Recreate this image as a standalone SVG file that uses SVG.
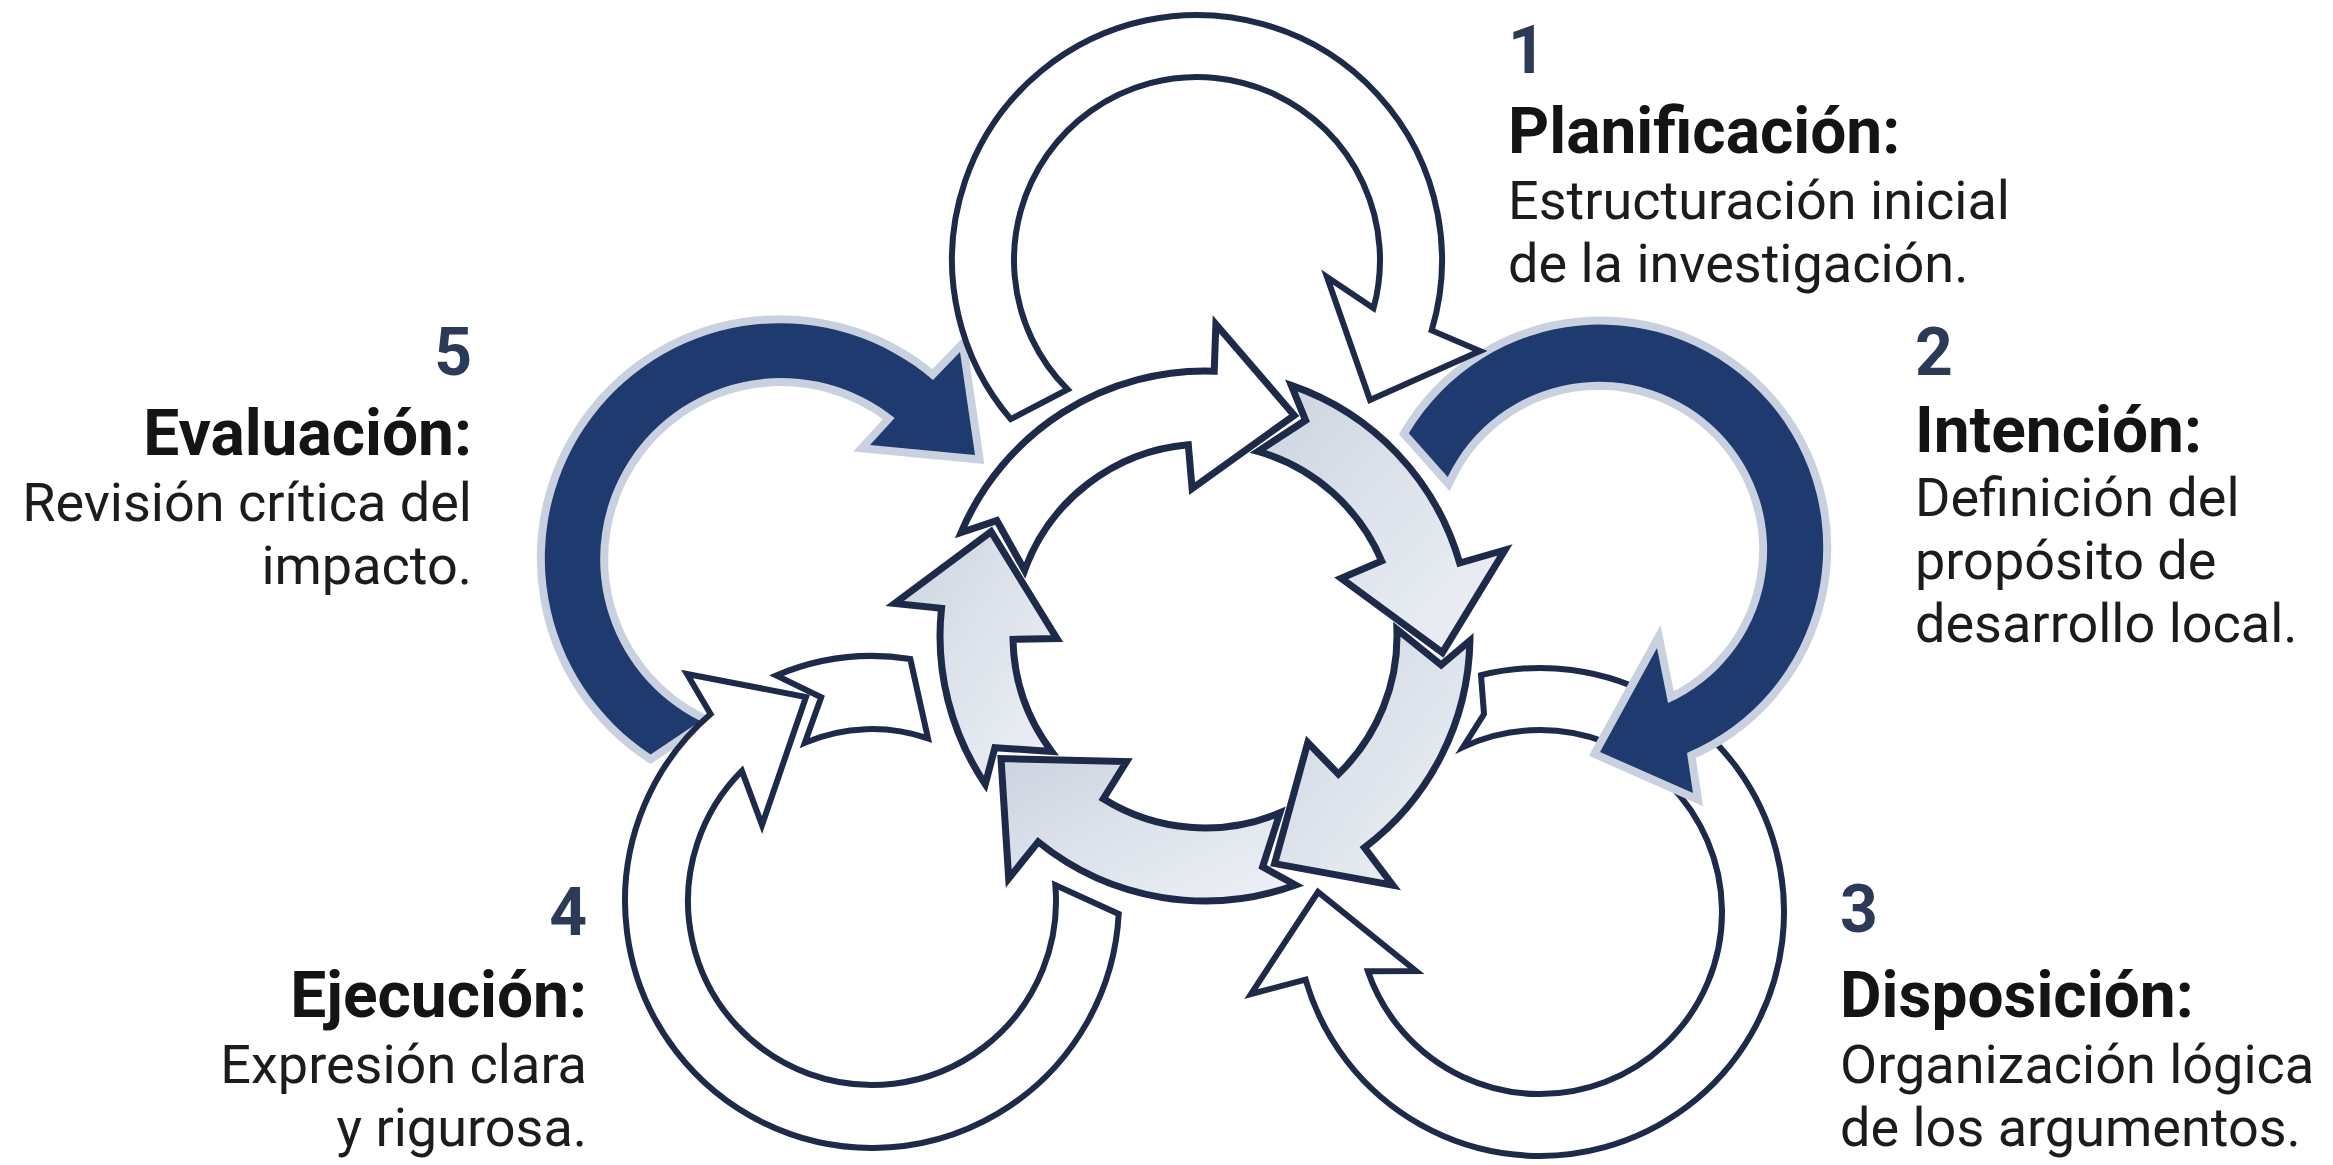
<svg xmlns="http://www.w3.org/2000/svg" width="2333" height="1165" viewBox="0 0 2333 1165">
<defs>
<style>
.wl{fill:#ffffff;stroke:#1e2a4a;stroke-width:6;stroke-linejoin:miter}
.dk{fill:#1f3a6e;stroke:#c9d1e1;stroke-width:16;stroke-linejoin:miter;paint-order:stroke}
.halo{fill:#ffffff;stroke:#ffffff;stroke-width:20;stroke-linejoin:round}
.ra{fill:url(#lg);stroke:#1e2a4a;stroke-width:7;stroke-linejoin:miter}
.rw{fill:#ffffff;stroke:#1e2a4a;stroke-width:7;stroke-linejoin:miter}
.num{font-family:Roboto,"Liberation Sans",sans-serif;font-weight:700;font-size:66px;fill:#2b3a56}
.ttl{font-family:Roboto,"Liberation Sans",sans-serif;font-weight:700;font-size:64px;fill:#141414}
.bd{font-family:Roboto,"Liberation Sans",sans-serif;font-weight:400;font-size:54px;fill:#1c1c1c}
.end{text-anchor:end}
</style>
<linearGradient id="lg" x1="0" y1="0" x2="1" y2="1">
<stop offset="0" stop-color="#cdd4e0"/>
<stop offset="0.55" stop-color="#e0e5ed"/>
<stop offset="1" stop-color="#eef1f6"/>
</linearGradient>
<path id="a1" d="M961.1,532.5 A265,265 0 0 1 1214.2,371.2 L1215.9,324.2 L1294.2,415.3 L1192.1,488.6 L1188.3,444.7 A192,192 0 0 0 1024.6,570.3 L996.8,520.6 Z"/>
<path id="a2" d="M1291.3,385.4 A265,265 0 0 1 1459.7,563 L1504.9,550 L1442.4,652.6 L1341.2,578.2 L1381.7,561 A192,192 0 0 0 1257.9,451.4 L1305.6,420.3 Z"/>
<path id="a3" d="M1469.9,640.6 A265,265 0 0 1 1364.5,847.6 L1392.8,885.2 L1274.6,863.6 L1307.8,742.5 L1338.4,774.1 A192,192 0 0 0 1396.9,629.3 L1441.2,665 Z"/>
<path id="a4" d="M1295.6,885 A265,265 0 0 1 1038.2,841.9 L1008.7,878.5 L1001,758.6 L1126.6,761.5 L1103.3,798.8 A192,192 0 0 0 1280,812.7 L1262.6,866.9 Z"/>
<path id="a5" d="M985.3,784.2 A265,265 0 0 1 941.5,608.3 L894.7,603.4 L991.1,531.7 L1057,638.6 L1013,639.4 A192,192 0 0 0 1051.7,751.5 L994.9,747.7 Z"/>
</defs>
<rect x="0" y="0" width="2333" height="1165" fill="#ffffff"/>

<g id="connectors">
  <g id="loop5">
    <path class="dk" d="M650.6,754.5 A235,235 0 1 1 933,380 L960,352 L975,455 L870,445 L894.7,418.1 A181,181 0 1 0 700.5,721.1 Z"/>
  </g>
  <g id="loop4">
    <path class="wl" d="M1118.7,913.9 A247,247 0 1 1 710.6,714 L687,674 L806,697 L762,825 L741.9,770.9 A184,184 0 1 0 1055.3,885 Z"/>
    <path class="wl" d="M776.3,675.5 A245,245 0 0 1 910.3,659 L928,738.4 A172,172 0 0 0 804.8,742.7 L821.2,697.2 Z"/>
  </g>
  <g id="loop3">
    <path class="wl" d="M1481,675.2 A244,244 0 1 1 1305.6,979.7 L1251,994 L1318,892 L1416,971 L1367.9,971.3 A182,182 0 1 0 1463.1,747.1 L1484,714 Z"/>
  </g>
  <g id="loop2">
    <path class="dk" d="M1408.8,433.2 A223,223 0 1 1 1687,753 L1693,793 L1600,752 L1657,648 L1668,703 A168,168 0 1 0 1447.7,477 Z"/>
  </g>
  <g id="loop1">
    <path class="wl" d="M1010.7,419.1 A245,245 0 1 1 1431.7,330.4 L1480,351 L1370,400 L1327,277 L1373.5,308.3 A183,183 0 1 0 1067.6,389.4 Z"/>
  </g>
</g>

<g id="ring">
  <use href="#a1" class="halo"/>
  <use href="#a2" class="halo"/>
  <use href="#a3" class="halo"/>
  <use href="#a4" class="halo"/>
  <use href="#a5" class="halo"/>
  <use href="#a1" class="rw"/>
  <use href="#a2" class="ra"/>
  <use href="#a3" class="ra"/>
  <use href="#a4" class="ra"/>
  <use href="#a5" class="ra"/>
</g>

<g id="step1">
  <text class="num" x="1508" y="73">1</text>
  <text class="ttl" x="1508" y="153">Planificación:</text>
  <text class="bd" x="1508" y="219">Estructuración inicial</text>
  <text class="bd" x="1508" y="282">de la investigación.</text>
</g>
<g id="step2">
  <text class="num" x="1915" y="375">2</text>
  <text class="ttl" x="1915" y="452">Intención:</text>
  <text class="bd" x="1915" y="516">Definición del</text>
  <text class="bd" x="1915" y="579">propósito de</text>
  <text class="bd" x="1915" y="642">desarrollo local.</text>
</g>
<g id="step3">
  <text class="num" x="1840" y="932">3</text>
  <text class="ttl" x="1840" y="1017">Disposición:</text>
  <text class="bd" x="1840" y="1083">Organización lógica</text>
  <text class="bd" x="1840" y="1146">de los argumentos.</text>
</g>
<g id="step4">
  <text class="num end" x="587" y="935">4</text>
  <text class="ttl end" x="587" y="1017">Ejecución:</text>
  <text class="bd end" x="587" y="1083">Expresión clara</text>
  <text class="bd end" x="587" y="1146">y rigurosa.</text>
</g>
<g id="step5">
  <text class="num end" x="472" y="375">5</text>
  <text class="ttl end" x="472" y="455">Evaluación:</text>
  <text class="bd end" x="472" y="521">Revisión crítica del</text>
  <text class="bd end" x="472" y="584">impacto.</text>
</g>
</svg>
